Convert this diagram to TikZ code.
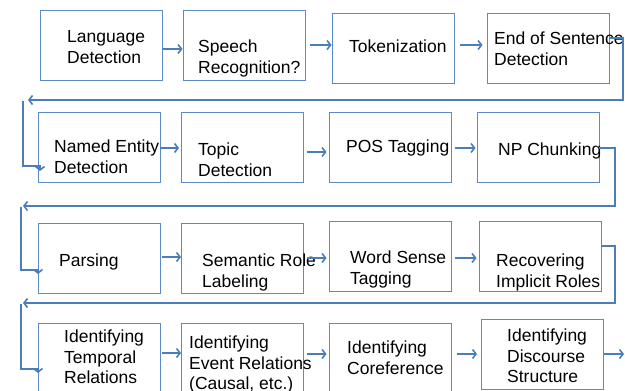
\documentclass[tikz,border=0pt]{standalone}
\usepackage{fontspec}
\setmainfont{Liberation Sans}
\usetikzlibrary{arrows.meta}
\definecolor{flowblue}{HTML}{4A7EBB}
\definecolor{boxblue}{HTML}{5B8AC6}

\begin{document}
\begin{tikzpicture}[x=1pt,y=-1pt,
  stage/.style={draw=boxblue, line width=0.9pt, minimum width=122pt,
    minimum height=70pt, inner sep=0pt},
  stagetext/.style={anchor=north west, inner sep=0pt, align=left,
    font=\fontsize{17.5}{20.5}\selectfont},
  flow/.style={draw=flowblue, line width=1.9pt,
    -{Straight Barb[length=3.5pt,width=9pt,line width=1.6pt]}},
]
\useasboundingbox (0,0) rectangle (625,391);
\clip (0,0) rectangle (625,391);

% ---- stage boxes ----
\node[stage] (b1)  at (101.5,45.5) {};
\node[stage] (b2)  at (244,45)     {};
\node[stage] (b3)  at (393,48)     {};
\node[stage] (b4)  at (548,48)     {};
\node[stage] (b5)  at (99,147.5)   {};
\node[stage] (b6)  at (242.5,147.5) {};
\node[stage] (b7)  at (390,147.5)  {};
\node[stage] (b8)  at (538,147.5)  {};
\node[stage] (b9)  at (99,258)     {};
\node[stage] (b10) at (242.5,258)  {};
\node[stage] (b11) at (390,256)    {};
\node[stage] (b12) at (540,256)    {};
\node[stage] (b13) at (99,358)     {};
\node[stage] (b14) at (242.5,358)  {};
\node[stage] (b15) at (390,358)    {};
\node[stage] (b16) at (542.5,354)  {};

% ---- stage captions (first-line top = centre - 9.7) ----
\node[stagetext] (t1)  at (67,28.3)   {\strut Language\\Detection};
\node[stagetext] (t2)  at (198,38.3)  {\strut Speech\\Recognition?};
\node[stagetext] (t3)  at (349,38.3)  {\strut Tokenization};
\node[stagetext] (t4)  at (494,30.3)  {\strut End of Sentence\\Detection};
\node[stagetext] (t5)  at (54,138.3)  {\strut Named Entity\\Detection};
\node[stagetext] (t6)  at (198,141.3) {\strut Topic\\Detection};
\node[stagetext] (t7)  at (346,138.3) {\strut POS Tagging};
\node[stagetext] (t8)  at (498,141.3) {\strut NP Chunking};
\node[stagetext] (t9)  at (59,252.3)  {\strut Parsing};
\node[stagetext] (t10) at (202,252.3) {\strut Semantic Role\\Labeling};
\node[stagetext] (t11) at (350,249.3) {\strut Word Sense\\Tagging};
\node[stagetext] (t12) at (496,252.3) {\strut Recovering\\Implicit Roles};
\node[stagetext] (t13) at (64,328.3)  {\strut Identifying\\Temporal\\Relations};
\node[stagetext] (t14) at (189,334.3) {\strut Identifying\\Event Relations\\(Causal, etc.)};
\node[stagetext] (t15) at (347,339.3) {\strut Identifying\\Coreference};
\node[stagetext] (t16) at (507,327.3) {\strut Identifying\\Discourse\\Structure};

% ---- arrows within each row ----
\draw[flow] (b1.east |- 0,49)  -- (b2.west |- 0,49);
\draw[flow] ([xshift=5pt]b2.east |- 0,45) -- (b3.west |- 0,45);
\draw[flow] ([xshift=6pt]b3.east |- 0,45) -- ([xshift=-4pt]b4.west |- 0,45);

\draw[flow] (b5.east |- 0,148) -- ([xshift=-2pt]b6.west |- 0,148);
\draw[flow] ([xshift=3pt]b6.east |- 0,152) -- ([xshift=-2pt]b7.west |- 0,152);
\draw[flow] ([xshift=4pt]b7.east |- 0,148) -- ([xshift=-1pt]b8.west |- 0,148);

\draw[flow] ([xshift=2pt]b9.east |- 0,257) -- (b10.west |- 0,257);
\draw[flow] ([xshift=3pt]b10.east |- 0,258) -- ([xshift=-2pt]b11.west |- 0,258);
\draw[flow] ([xshift=4pt]b11.east |- 0,258) -- ([xshift=-2pt]b12.west |- 0,258);

\draw[flow] ([xshift=2pt]b13.east |- 0,353) -- (b14.west |- 0,353);
\draw[flow] ([xshift=3pt]b14.east |- 0,354) -- ([xshift=-2pt]b15.west |- 0,354);
\draw[flow] ([xshift=6pt]b15.east |- 0,354) -- ([xshift=-4pt]b16.west |- 0,354);
\coordinate (out) at (624,354);
\draw[flow] (b16.east |- 0,354) -- (out);

% ---- return connectors between rows ----
\coordinate (r1a) at (28,100);
\coordinate (r1b) at (22.7,101);
\draw[flow] (b4.east |- 0,38) -- (623,38) |- (r1a);
\draw[flow] (r1b) |- (40,166) -- (40,171);

\coordinate (r2a) at (23,206);
\coordinate (r2b) at (21,207);
\draw[flow] (b8.east |- 0,148) -- (615,148) |- (r2a);
\draw[flow] (r2b) |- (38,270) -- (38,274);

\coordinate (r3a) at (23,303);
\coordinate (r3b) at (21,304);
\draw[flow] (b12.east |- 0,246) -- (615,246) |- (r3a);
\draw[flow] (r3b) |- (38,369) -- (38,373);
\end{tikzpicture}
\end{document}
